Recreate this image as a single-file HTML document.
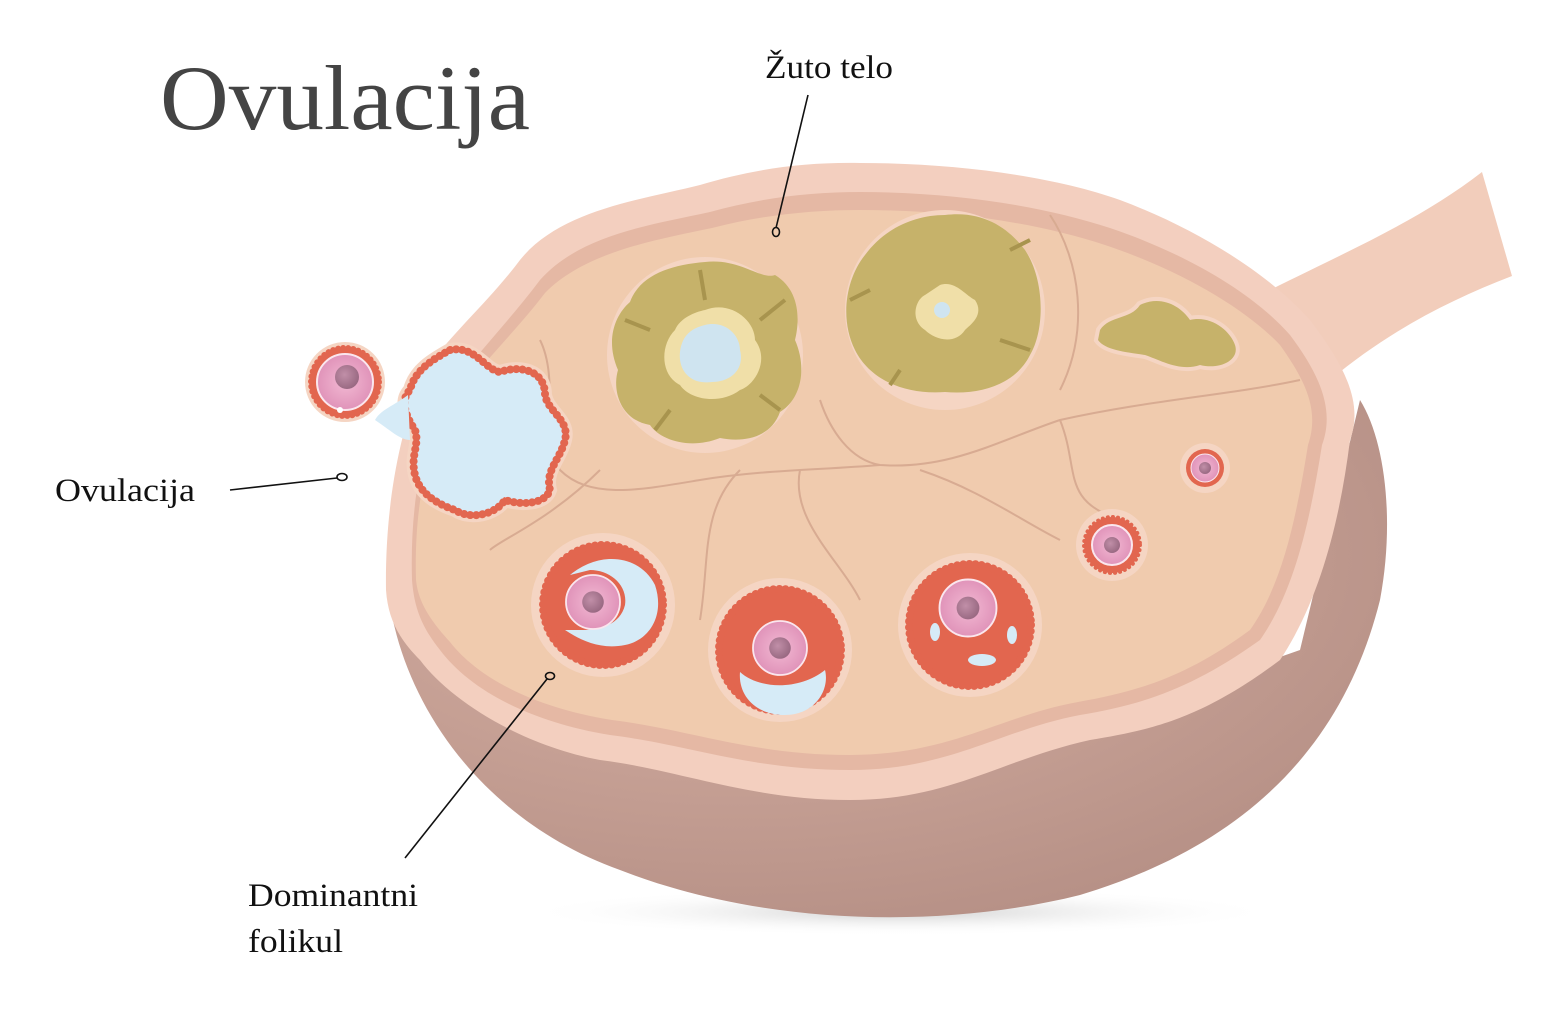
<!DOCTYPE html>
<html><head><meta charset="utf-8"><style>
html,body{margin:0;padding:0;background:#fff;}
svg{display:block;}
text{font-family:"Liberation Serif",serif;fill:#111;}
</style></head><body>
<svg width="1547" height="1025" viewBox="0 0 1547 1025" xmlns="http://www.w3.org/2000/svg">
<defs>
<radialGradient id="sh" cx="0.5" cy="0.5" r="0.5"><stop offset="0" stop-color="#bbb" stop-opacity="0.7"/><stop offset="1" stop-color="#fff" stop-opacity="0"/></radialGradient>
<radialGradient id="bowl" cx="0.35" cy="0.3" r="0.8"><stop offset="0" stop-color="#d9b3a6"/><stop offset="1" stop-color="#b48e84"/></radialGradient>
<radialGradient id="egg" cx="0.5" cy="0.5" r="0.5"><stop offset="0" stop-color="#f2b9d3"/><stop offset="1" stop-color="#e093b9"/></radialGradient>
<radialGradient id="nuc" cx="0.4" cy="0.4" r="0.6"><stop offset="0" stop-color="#c18fa8"/><stop offset="1" stop-color="#9a6a83"/></radialGradient>
<g id="oo"><circle r="30" fill="url(#egg)" stroke="#fbe6ee" stroke-width="2"/><circle r="12" fill="url(#nuc)"/></g>
</defs>
<ellipse cx="900" cy="912" rx="380" ry="24" fill="url(#sh)"/>
<path d="M1270 290 C1350 250 1420 220 1482 172 L1512 276 C1450 300 1390 330 1330 380 Z" fill="#f2cdbb"/>
<path d="M388 590 C400 700 480 820 620 870 C760 925 940 930 1080 895 C1230 850 1340 760 1380 600 C1395 520 1385 440 1360 400 L1300 650 L900 790 L500 720 Z" fill="url(#bowl)"/>
<path d="M386 590 C385 520 395 440 425 370 C455 330 490 300 520 260 C560 210 640 200 700 185 C750 170 800 162 860 163 C950 163 1050 175 1120 200 C1200 230 1270 275 1310 320 C1340 360 1365 400 1350 440 C1340 520 1320 600 1280 660 C1200 720 1150 730 1090 740 C1000 760 950 800 850 800 C750 800 680 770 600 760 C520 745 450 700 420 660 C400 640 388 620 386 590 Z" fill="#f3cfbf"/>
<path d="M412 580 C410 510 420 440 450 390 C480 350 510 320 540 280 C580 235 650 225 710 212 C760 198 810 192 860 192 C950 192 1040 205 1110 228 C1190 255 1255 295 1290 335 C1320 375 1335 410 1322 445 C1310 520 1295 590 1260 640 C1190 690 1140 705 1080 715 C1000 730 950 770 850 770 C750 770 690 745 610 735 C530 722 470 690 440 650 C420 625 414 605 412 580 Z" fill="#e5b8a4"/>
<path d="M416 580 C414 512 425 445 455 400 C485 360 515 332 545 293 C585 252 655 240 712 228 C762 215 812 210 860 210 C950 210 1035 222 1105 245 C1180 270 1245 308 1280 345 C1305 380 1320 410 1308 445 C1296 520 1282 585 1250 630 C1185 678 1135 692 1078 702 C1000 716 950 755 850 755 C752 755 692 730 612 720 C535 708 478 678 450 642 C428 618 418 600 416 580 Z" fill="#f0cbae"/>
<g fill="none" stroke="#d8ab92" stroke-width="2">
<path d="M820 400 C830 430 850 460 880 465 C950 470 1000 440 1060 420 C1150 400 1230 395 1300 380"/>
<path d="M880 465 C820 470 760 470 700 480 C640 490 590 500 560 470 C540 440 560 380 540 340"/>
<path d="M800 470 C790 520 840 560 860 600"/>
<path d="M740 470 C700 510 710 560 700 620"/>
<path d="M1060 420 C1080 470 1060 500 1120 520"/>
<path d="M600 470 C550 520 500 540 490 550"/>
<path d="M1050 215 C1080 260 1090 330 1060 390"/>
<path d="M920 470 C980 490 1020 520 1060 540"/>
</g>
<circle cx="705" cy="355" r="98" fill="#f5d5c3"/>
<path d="M705 262 C740 258 760 280 775 275 C800 290 800 320 795 340 C808 370 800 400 780 412 C770 440 740 442 720 438 C690 450 660 440 650 425 C620 420 612 390 618 370 C605 340 615 315 630 302 C640 275 670 265 705 262 Z" fill="#c6b26a"/>
<path d="M705 310 C730 300 755 320 755 340 C770 360 755 385 740 390 C720 405 690 400 680 385 C660 375 660 345 675 330 C680 318 695 312 705 310 Z" fill="#f0dfa8"/>
<path d="M705 325 C725 320 740 335 740 350 C745 370 730 382 712 382 C690 385 678 370 680 352 C682 335 692 328 705 325 Z" fill="#cfe4f0"/>
<g stroke="#a8944e" stroke-width="4" fill="none"><path d="M650 330 L625 320"/><path d="M760 320 L785 300"/><path d="M670 410 L655 430"/><path d="M760 395 L780 410"/><path d="M700 270 L705 300"/></g>
<circle cx="945" cy="310" r="100" fill="#f5d5c3"/>
<path d="M945 215 C985 210 1010 230 1025 250 C1045 280 1045 330 1030 355 C1015 385 980 395 945 392 C905 395 870 380 855 350 C840 320 845 280 865 255 C885 228 915 215 945 215 Z" fill="#c6b26a"/>
<path d="M940 285 C955 280 965 295 975 300 C985 315 970 325 965 330 C955 345 935 340 925 330 C910 320 915 300 925 295 Z" fill="#f0dfa8"/>
<circle cx="942" cy="310" r="8" fill="#cfe4f0"/>
<g stroke="#a8944e" stroke-width="4" fill="none"><path d="M870 290 L850 300"/><path d="M1010 250 L1030 240"/><path d="M1000 340 L1030 350"/><path d="M900 370 L890 385"/></g>
<path d="M1100 330 C1110 315 1130 320 1140 305 C1160 295 1180 305 1190 320 C1210 315 1230 330 1235 345 C1240 360 1220 370 1200 365 C1180 372 1160 360 1145 355 C1125 352 1105 350 1098 340 Z" fill="#f5d5c3" stroke="#f5d5c3" stroke-width="8"/>
<path d="M1100 330 C1110 315 1130 320 1140 305 C1160 295 1180 305 1190 320 C1210 315 1230 330 1235 345 C1240 360 1220 370 1200 365 C1180 372 1160 360 1145 355 C1125 352 1105 350 1098 340 Z" fill="#c6b26a"/>
<path d="M450 350 C475 345 485 370 500 372 C520 365 545 370 545 395 C548 412 570 420 565 440 C560 460 545 470 550 490 C545 505 520 505 505 500 C495 515 470 520 455 510 C440 505 420 495 415 475 C410 455 420 445 415 430 C405 415 400 400 410 390 C415 370 432 360 450 350 Z" fill="#f5d5c3" stroke="#f5d5c3" stroke-width="14"/>
<path d="M450 350 C475 345 485 370 500 372 C520 365 545 370 545 395 C548 412 570 420 565 440 C560 460 545 470 550 490 C545 505 520 505 505 500 C495 515 470 520 455 510 C440 505 420 495 415 475 C410 455 420 445 415 430 C405 415 400 400 410 390 C415 370 432 360 450 350 Z" fill="#d6ebf7" stroke="#e2664f" stroke-width="8" stroke-dasharray="0.1 6" stroke-linecap="round"/>
<path d="M450 350 C475 345 485 370 500 372 C520 365 545 370 545 395 C548 412 570 420 565 440 C560 460 545 470 550 490 C545 505 520 505 505 500 C495 515 470 520 455 510 C440 505 420 495 415 475 C410 455 420 445 415 430 C405 415 400 400 410 390 C415 370 432 360 450 350 Z" fill="none" stroke="#e2664f" stroke-width="5"/>
<path d="M408 395 C395 405 380 410 375 420 C390 430 400 440 410 440 Z" fill="#d6ebf7"/>
<circle cx="345" cy="382" r="40" fill="#f5d5c3"/>
<circle cx="345" cy="382" r="34" fill="#e2664f" stroke="#e2664f" stroke-width="6" stroke-dasharray="0.1 5" stroke-linecap="round"/>
<circle cx="345" cy="382" r="28" fill="url(#egg)" stroke="#fbe6ee" stroke-width="2"/>
<circle cx="347" cy="377" r="12" fill="url(#nuc)"/>
<circle cx="340" cy="410" r="3" fill="#fff"/>
<circle cx="1205" cy="468" r="25" fill="#f5d5c3"/><circle cx="1205" cy="468" r="19" fill="#e2664f"/><circle cx="1205" cy="468" r="14" fill="url(#egg)" stroke="#fbe6ee"/><circle cx="1205" cy="468" r="6" fill="url(#nuc)"/>
<circle cx="1112" cy="545" r="36" fill="#f5d5c3"/><circle cx="1112" cy="545" r="28" fill="#e2664f" stroke="#e2664f" stroke-width="4" stroke-dasharray="0.1 5" stroke-linecap="round"/><circle cx="1112" cy="545" r="20" fill="url(#egg)" stroke="#fbe6ee" stroke-width="2"/><circle cx="1112" cy="545" r="8" fill="url(#nuc)"/>
<circle cx="603" cy="605" r="72" fill="#f5d5c3"/>
<circle cx="603" cy="605" r="60" fill="#e2664f" stroke="#e2664f" stroke-width="8" stroke-dasharray="0.1 6" stroke-linecap="round"/>
<path d="M570 575 C600 550 640 555 655 585 C665 615 650 640 625 645 C600 650 580 640 565 630 L580 630 C600 630 620 625 625 605 C628 585 610 570 590 570 Z" fill="#d6ebf7"/>
<use href="#oo" x="593" y="602" transform="translate(593 602) scale(0.9) translate(-593 -602)"/>
<circle cx="780" cy="650" r="72" fill="#f5d5c3"/>
<circle cx="780" cy="650" r="61" fill="#e2664f" stroke="#e2664f" stroke-width="8" stroke-dasharray="0.1 6" stroke-linecap="round"/>
<path d="M740 672 C760 690 800 690 825 670 C830 690 815 715 785 715 C755 715 738 695 740 672 Z" fill="#d6ebf7"/>
<use href="#oo" x="780" y="648" transform="translate(780 648) scale(0.9) translate(-780 -648)"/>
<circle cx="970" cy="625" r="72" fill="#f5d5c3"/>
<circle cx="970" cy="625" r="61" fill="#e2664f" stroke="#e2664f" stroke-width="8" stroke-dasharray="0.1 6" stroke-linecap="round"/>
<ellipse cx="935" cy="632" rx="5" ry="9" fill="#d6ebf7"/>
<ellipse cx="982" cy="660" rx="14" ry="6" fill="#d6ebf7"/>
<ellipse cx="1012" cy="635" rx="5" ry="9" fill="#d6ebf7"/>
<use href="#oo" x="968" y="608" transform="translate(968 608) scale(0.95) translate(-968 -608)"/>
<g stroke="#111" stroke-width="1.6" fill="none">
<path d="M808 95 L776 228"/><ellipse cx="776" cy="232" rx="3.5" ry="4.5"/>
<path d="M230 490 L337 478"/><ellipse cx="342" cy="477" rx="5" ry="3.5"/>
<path d="M405 858 L547 679"/><ellipse cx="550" cy="676" rx="4.5" ry="3.5"/>
</g>
<text x="160" y="129" font-size="92" textLength="370" lengthAdjust="spacingAndGlyphs" style="fill:#444">Ovulacija</text>
<text x="765" y="78" font-size="33" textLength="128" lengthAdjust="spacingAndGlyphs">Žuto telo</text>
<text x="55" y="501" font-size="33" textLength="140" lengthAdjust="spacingAndGlyphs">Ovulacija</text>
<text x="248" y="906" font-size="33" textLength="170" lengthAdjust="spacingAndGlyphs">Dominantni</text>
<text x="248" y="952" font-size="33" textLength="95" lengthAdjust="spacingAndGlyphs">folikul</text>
</svg>
</body></html>
